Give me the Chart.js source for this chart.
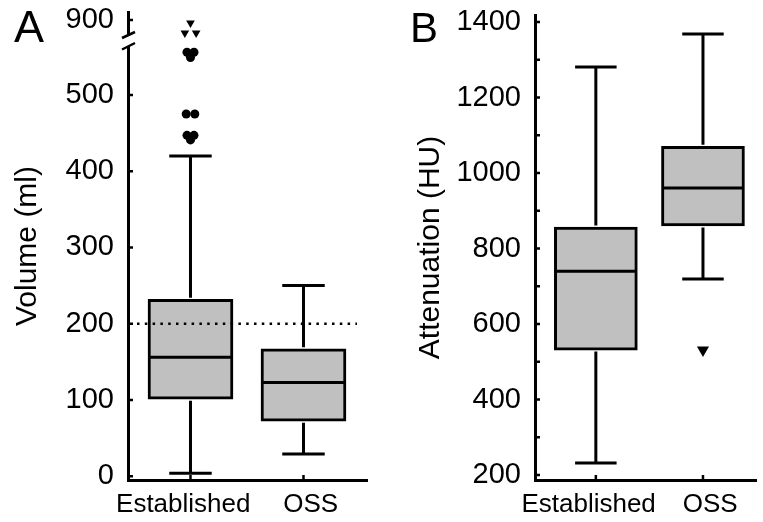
<!DOCTYPE html>
<html>
<head>
<meta charset="utf-8">
<script src="https://cdn.jsdelivr.net/npm/chart.js@4.4.0/dist/chart.umd.min.js"></script>
<style>
  html, body { margin: 0; padding: 0; background: #fff; }
  #chartA { position: absolute; left: 0; top: 0; }
  #chartB { position: absolute; left: 390px; top: 0; }
</style>
</head>
<body>
<canvas id="chartA" width="390" height="522"></canvas>
<canvas id="chartB" width="373" height="522"></canvas>
<script>
const categories = ['Established', 'OSS'];

// A: volume (ml)
const volMin = [4, 29];
const volQ1 = [101, 72];
const volMedian = [156, 123];
const volQ3 = [232, 167];
const volMax = [420, 250];
const volOutliers = [556, 556, 549, 475, 475, 447, 447, 441];
const volOutlierJitter = [-0.031, 0.031, 0, -0.038, 0.038, -0.031, 0.031, 0];
const volFar = [896, 883, 883];          // above the axis break
const volFarJitter = [0, -0.05, 0.05];
const volTicks = [0, 50, 100, 150, 200, 250, 300, 350, 400, 450, 500, 550];
const volTopTicks = [900];
const volLimit = 200;

// B: attenuation (HU)
const attMin = [232, 719];
const attQ1 = [531, 860];
const attMedian = [740, 960];
const attQ3 = [857, 1071];
const attMax = [1281, 1368];
const attOutliers = [531];               // OSS
const attTicks = [200, 300, 400, 500, 600, 700, 800, 900, 1000, 1100, 1200, 1300, 1400];

const FONT = "'Liberation Sans', Arial, sans-serif";
Chart.defaults.font.family = FONT;
Chart.defaults.font.size = 29;
Chart.defaults.color = '#000';

const noPad = s => { s.paddingTop = 0; s.paddingBottom = 0; s.paddingLeft = 0; s.paddingRight = 0; };

// the category labels sit a little apart from their tick marks in the original
const xLabel = v => (v === 1 ? categories[0] + '  ' : '  ' + categories[1]);

// whiskers, caps, medians, inward tick marks, extra text
const boxPlugin = {
  id: 'boxes',
  afterDatasetsDraw(chart, args, opts) {
    const ctx = chart.ctx;
    const y = chart.scales.y;
    const bars = chart.getDatasetMeta(0).data;
    ctx.save();
    ctx.strokeStyle = '#000';
    ctx.lineWidth = 3;
    bars.forEach((bar, i) => {
      const half = bar.width / 2, cap = bar.width / 4;
      const pMin = y.getPixelForValue(opts.min[i]);
      const pMax = y.getPixelForValue(opts.max[i]);
      const pQ1 = y.getPixelForValue(opts.q1[i]);
      const pQ3 = y.getPixelForValue(opts.q3[i]);
      const pMed = y.getPixelForValue(opts.median[i]);
      ctx.beginPath();
      ctx.moveTo(bar.x, pQ3 - 1.5); ctx.lineTo(bar.x, pMax);
      ctx.moveTo(bar.x - cap, pMax); ctx.lineTo(bar.x + cap, pMax);
      ctx.moveTo(bar.x, pQ1 + 1.5); ctx.lineTo(bar.x, pMin);
      ctx.moveTo(bar.x - cap, pMin); ctx.lineTo(bar.x + cap, pMin);
      ctx.moveTo(bar.x - half + 1, pMed); ctx.lineTo(bar.x + half - 1, pMed);
      ctx.stroke();
    });
    if (opts.limit !== undefined) {
      const pl = y.getPixelForValue(opts.limit);
      ctx.lineWidth = 2.5;
      ctx.setLineDash([2.5, 5.3]);
      ctx.beginPath();
      ctx.moveTo(chart.chartArea.left + 9, pl);
      ctx.lineTo(chart.chartArea.right - 10, pl);
      ctx.stroke();
    }
    ctx.restore();
  },
  afterDraw(chart, args, opts) {
    const ctx = chart.ctx;
    ctx.save();
    ctx.strokeStyle = '#000';
    ctx.lineWidth = 2.5;
    ctx.beginPath();
    Object.values(chart.scales).forEach(s => {
      s.ticks.forEach(t => {
        const p = s.getPixelForValue(t.value);
        if (s.axis === 'y') { ctx.moveTo(s.right, p); ctx.lineTo(s.right + 5, p); }
        else { ctx.moveTo(p, s.top); ctx.lineTo(p, s.top - 5); }
      });
    });
    ctx.stroke();
    if (chart.scales.yTop) {
      const ax = chart.scales.y.right;
      const yb = (chart.scales.yTop.bottom + chart.scales.y.top) / 2;
      ctx.fillStyle = '#fff';
      ctx.fillRect(ax - 3, yb - 5, 6, 11);
      ctx.beginPath();
      ctx.moveTo(ax - 6, yb - 2); ctx.lineTo(ax + 7, yb - 8);
      ctx.moveTo(ax - 6, yb + 9.5); ctx.lineTo(ax + 7, yb + 3);
      ctx.stroke();
    }
    ctx.fillStyle = '#000';
    ctx.textBaseline = 'alphabetic';
    if (opts.axisTitle) {
      const top = chart.scales.yTop ? chart.scales.yTop.top : chart.scales.y.top;
      ctx.save();
      ctx.translate(36, (top + chart.scales.y.bottom) / 2);
      ctx.rotate(-Math.PI / 2);
      ctx.textAlign = 'center';
      ctx.font = '30px ' + FONT;
      ctx.fillText(opts.axisTitle, 0, 0);
      ctx.restore();
    }
    ctx.textAlign = 'left';
    ctx.font = opts.letterSize + 'px ' + FONT;
    ctx.fillText(opts.letter, opts.letterX, 42);
    ctx.restore();
  }
};

function boxData(q1, q3) {
  return categories.map((c, i) => ({ x: i + 1, y: [q1[i], q3[i]] }));
}

function xScale(min, max) {
  return {
    type: 'linear', min: min, max: max, offset: false,
    grid: { display: true, drawOnChartArea: false, drawTicks: false, offset: false },
    border: { color: '#000', width: 3 },
    ticks: { padding: 9, font: { size: 26 }, callback: xLabel },
    afterBuildTicks: s => { s.ticks = categories.map((c, i) => ({ value: i + 1 })); },
    afterFit: s => { s.height = 42; noPad(s); }
  };
}

function yScale(min, max, tickList, labelStep, width, extra) {
  return Object.assign({
    type: 'linear', position: 'left', min: min, max: max,
    grid: { display: true, drawOnChartArea: false, drawTicks: false },
    border: { color: '#000', width: 3 },
    ticks: { padding: 14, callback: v => (v % labelStep === 0 ? v : '') },
    afterBuildTicks: s => { s.ticks = tickList.map(v => ({ value: v })); },
    afterFit: s => { s.width = width; noPad(s); }
  }, extra);
}

new Chart(document.getElementById('chartA'), {
  type: 'bar',
  data: {
    datasets: [
      { data: boxData(volQ1, volQ3), backgroundColor: '#c0c0c0', borderColor: '#000',
        borderWidth: 3, borderSkipped: false, barThickness: 85, yAxisID: 'y' },
      { type: 'scatter', data: volOutliers.map((v, i) => ({ x: 1 + volOutlierJitter[i], y: v })),
        pointStyle: 'circle', pointRadius: 4.5, backgroundColor: '#000', borderWidth: 0, yAxisID: 'y' },
      { type: 'scatter', data: volFar.map((v, i) => ({ x: 1 + volFarJitter[i], y: v })),
        pointStyle: 'triangle', rotation: 180, pointRadius: 5, backgroundColor: '#000', borderWidth: 0, yAxisID: 'yTop' }
    ]
  },
  options: {
    responsive: false,
    animation: false,
    devicePixelRatio: 1,
    layout: { padding: { top: 12, right: 23, left: 0, bottom: 0 } },
    plugins: {
      legend: { display: false },
      tooltip: { enabled: false },
      boxes: { min: volMin, q1: volQ1, median: volMedian, q3: volQ3, max: volMax, limit: volLimit,
               letter: 'A', letterX: 14, letterSize: 45, axisTitle: 'Volume (ml)' }
    },
    scales: {
      x: xScale(0.447, 2.562),
      y: yScale(-5, 572, volTicks, 100, 128, { stack: 'v', stackWeight: 440 }),
      yTop: yScale(874, 910.5, volTopTicks, 100, 128, { stack: 'v', stackWeight: 28 })
    }
  },
  plugins: [boxPlugin]
});

new Chart(document.getElementById('chartB'), {
  type: 'bar',
  data: {
    datasets: [
      { data: boxData(attQ1, attQ3), backgroundColor: '#c0c0c0', borderColor: '#000',
        borderWidth: 3, borderSkipped: false, barThickness: 83, yAxisID: 'y' },
      { type: 'scatter', data: attOutliers.map(v => ({ x: 2, y: v })),
        pointStyle: 'triangle', rotation: 180, pointRadius: 7, backgroundColor: '#000', borderWidth: 0, yAxisID: 'y' }
    ]
  },
  options: {
    responsive: false,
    animation: false,
    devicePixelRatio: 1,
    layout: { padding: { top: 15, right: 1, left: 0, bottom: 0 } },
    plugins: {
      legend: { display: false },
      tooltip: { enabled: false },
      boxes: { min: attMin, q1: attQ1, median: attMedian, q3: attQ3, max: attMax,
               letter: 'B', letterX: 20, letterSize: 42 }
    },
    scales: {
      x: xScale(0.432, 2.495),
      y: yScale(187, 1418.5, attTicks, 200, 145, {
        title: { display: true, text: 'Attenuation (HU)', font: { size: 30 }, padding: { top: 23, bottom: 0 } }
      })
    }
  },
  plugins: [boxPlugin]
});
</script>
</body>
</html>
